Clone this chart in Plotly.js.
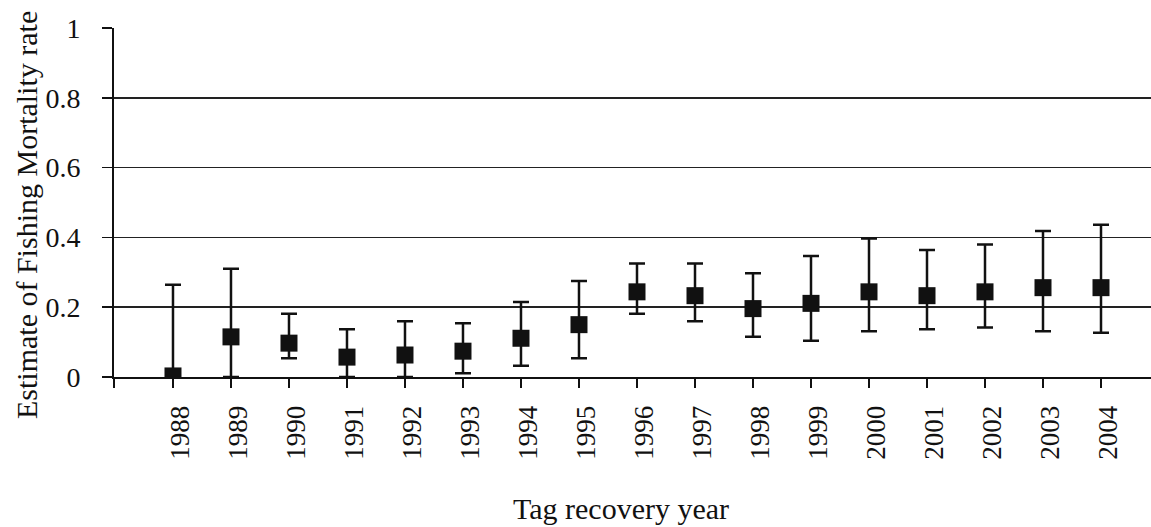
<!DOCTYPE html>
<html>
<head>
<meta charset="utf-8">
<script src="https://cdn.plot.ly/plotly-3.0.1.min.js"></script>
<style>html,body{margin:0;padding:0;background:#fff;}#chart{width:1151px;height:527px;}</style>
</head>
<body>
<div id="chart"></div>
<script>
const years = ["1988","1989","1990","1991","1992","1993","1994","1995","1996","1997","1998","1999","2000","2001","2002","2003","2004"];
const estimate = [0.003,0.115,0.097,0.057,0.063,0.074,0.111,0.150,0.244,0.233,0.196,0.211,0.244,0.233,0.244,0.256,0.256];
const upper = [0.264,0.310,0.181,0.137,0.160,0.154,0.215,0.275,0.325,0.325,0.297,0.347,0.397,0.364,0.380,0.418,0.436];
const lower = [0.0,0.0,0.054,0.0,0.0,0.011,0.032,0.054,0.181,0.160,0.115,0.104,0.131,0.137,0.142,0.131,0.127];
const yTicks = [0,0.2,0.4,0.6,0.8,1];
const yTickText = ["0","0.2","0.4","0.6","0.8","1"];
const gridVals = [0.2,0.4,0.6,0.8];

const idx = years.map((_, i) => i);
const plusErr = upper.map((u, i) => u - estimate[i]);
const minusErr = lower.map((l, i) => estimate[i] - l);

const serif = "Liberation Serif, Times New Roman, serif";
const ink = "#111";
const xLeft = -1.017, xRight = 16.862;
const labelShift = 0.13;

const trace = {
  x: idx, y: estimate, type: "scatter", mode: "markers",
  marker: {symbol: "square", size: 17, color: ink},
  error_y: {type: "data", symmetric: false, array: plusErr, arrayminus: minusErr,
            color: ink, thickness: 2.5, width: 8},
  showlegend: false, hoverinfo: "skip"
};
const gridTrace = {x: [xLeft], y: [null], xaxis: "x2", yaxis: "y2", type: "scatter", mode: "markers",
  showlegend: false, hoverinfo: "skip"};

const layout = {
  width: 1151, height: 527,
  margin: {l: 114, r: 0, t: 28, b: 150},
  paper_bgcolor: "#fff", plot_bgcolor: "rgba(0,0,0,0)",
  font: {family: serif, size: 28, color: ink},
  xaxis: {
    range: [xLeft, xRight], showgrid: false, zeroline: false,
    showline: true, linecolor: ink, linewidth: 2,
    tickmode: "array", tickvals: [xLeft].concat(idx), showticklabels: false,
    ticks: "outside", ticklen: 9, tickwidth: 1.5, tickcolor: ink
  },
  xaxis2: {
    overlaying: "x", anchor: "y", side: "bottom",
    range: [xLeft, xRight], showgrid: false, zeroline: false, showline: false,
    tickmode: "array", tickvals: idx.map(i => i + labelShift), ticktext: years,
    ticks: "outside", ticklen: 9, tickcolor: "rgba(0,0,0,0)",
    tickangle: -90, ticklabelstandoff: 8,
    tickfont: {family: serif, size: 27, color: ink}
  },
  yaxis: {
    range: [0, 1], showgrid: false, zeroline: false,
    showline: true, linecolor: ink, linewidth: 2,
    tickmode: "array", tickvals: yTicks, ticktext: yTickText,
    ticks: "outside", ticklen: 10, tickwidth: 1.5, tickcolor: ink,
    ticklabelstandoff: 16,
    tickfont: {family: serif, size: 28, color: ink}
  },
  yaxis2: {
    range: [0, 1], overlaying: "y", side: "left", showgrid: true, gridcolor: "#222", gridwidth: 1.5,
    tickmode: "array", tickvals: gridVals, showticklabels: false, ticks: "", zeroline: false, showline: false
  },
  annotations: [{
    text: "Tag recovery year", xref: "paper", yref: "paper", x: 0.489, y: -0.325,
    xanchor: "center", yanchor: "top", showarrow: false,
    font: {family: serif, size: 30, color: ink}
  }, {
    text: "Estimate of Fishing Mortality rate", xref: "paper", yref: "paper", x: -0.0849, y: 0.464,
    xanchor: "center", yanchor: "middle", textangle: -90, showarrow: false,
    font: {family: serif, size: 30, color: ink}
  }]
};

Plotly.newPlot("chart", [gridTrace, trace], layout, {staticPlot: true, displayModeBar: false});
</script>
</body>
</html>
